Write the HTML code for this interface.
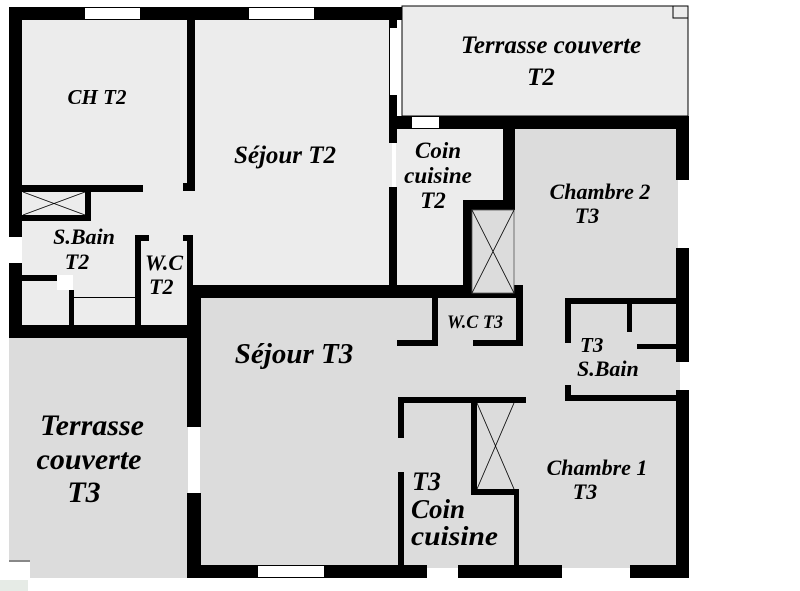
<!DOCTYPE html>
<html><head><meta charset="utf-8"><style>
html,body{margin:0;padding:0;background:#fff;}
svg{display:block;}
text{font-family:"Liberation Serif",serif;font-weight:bold;font-style:italic;fill:#000;}
</style></head><body>
<svg width="800" height="591" viewBox="0 0 800 591" xmlns="http://www.w3.org/2000/svg">
<rect x="402" y="6" width="286" height="110" fill="#ececec" stroke="#000" stroke-width="1"/>
<rect x="673" y="6" width="15" height="12" fill="none" stroke="#000" stroke-width="1"/>
<rect x="22" y="20" width="370" height="305" fill="#ececec"/>
<rect x="195" y="290" width="485" height="278" fill="#dcdcdc"/>
<rect x="396" y="129" width="282" height="165" fill="#dcdcdc"/>
<rect x="396" y="129" width="107" height="158" fill="#ececec"/>
<rect x="9" y="338" width="180" height="240" fill="#dcdcdc"/>
<line x1="9" y1="561" x2="30" y2="561" stroke="#333" stroke-width="1"/>
<rect x="9" y="562" width="21" height="18" fill="#fff"/>
<rect x="0" y="580" width="28" height="11" fill="#e6ebe6"/>
<g fill="#000">
<rect x="9" y="7" width="393" height="13"/>
<rect x="9" y="7" width="13" height="331"/>
<rect x="9" y="325" width="191" height="13"/>
<rect x="389" y="7" width="8" height="136"/>
<rect x="389" y="187" width="8" height="100"/>
<rect x="187" y="20" width="8" height="170"/>
<rect x="22" y="185" width="121" height="7"/>
<rect x="183" y="183" width="12" height="8"/>
<rect x="85" y="190" width="6" height="31"/>
<rect x="22" y="215" width="69" height="6"/>
<rect x="135" y="235" width="6" height="90"/>
<rect x="135" y="235" width="14" height="6"/>
<rect x="183" y="235" width="10" height="6"/>
<rect x="187" y="235" width="6" height="90"/>
<rect x="22" y="275" width="35" height="6"/>
<rect x="69" y="290" width="5" height="35"/>
<rect x="187" y="285" width="336" height="13"/>
<rect x="187" y="285" width="14" height="142"/>
<rect x="187" y="493" width="14" height="85"/>
<rect x="389" y="116" width="300" height="13"/>
<rect x="676" y="116" width="13" height="64"/>
<rect x="676" y="248" width="13" height="114"/>
<rect x="676" y="390" width="13" height="188"/>
<rect x="187" y="565" width="240" height="13"/>
<rect x="458" y="565" width="104" height="13"/>
<rect x="630" y="565" width="59" height="13"/>
<rect x="503" y="129" width="12" height="81"/>
<rect x="463" y="200" width="52" height="10"/>
<rect x="463" y="200" width="9" height="93"/>
<rect x="432" y="293" width="6" height="53"/>
<rect x="516" y="293" width="7" height="53"/>
<rect x="397" y="340" width="41" height="6"/>
<rect x="473" y="340" width="50" height="6"/>
<rect x="565" y="298" width="112" height="6"/>
<rect x="565" y="298" width="6" height="45"/>
<rect x="565" y="385" width="6" height="16"/>
<rect x="627" y="300" width="5" height="32"/>
<rect x="637" y="344" width="40" height="5"/>
<rect x="565" y="395" width="112" height="6"/>
<rect x="398" y="397" width="128" height="6"/>
<rect x="398" y="397" width="6" height="41"/>
<rect x="398" y="472" width="6" height="93"/>
<rect x="471" y="397" width="6" height="96"/>
<rect x="471" y="489" width="48" height="6"/>
<rect x="514" y="489" width="5" height="76"/>
</g>
<g fill="#fff">
<rect x="85" y="8" width="55" height="11"/>
<rect x="249" y="8" width="65" height="11"/>
<rect x="390" y="28" width="7" height="67"/>
<rect x="412" y="117" width="27" height="11"/>
<rect x="9" y="237" width="13" height="26"/>
<rect x="57" y="275" width="16" height="15"/>
<rect x="258" y="566" width="66" height="11"/>
<rect x="188" y="427" width="12" height="66"/>
</g>
<rect x="23" y="192" width="62" height="23" fill="#ececec"/>
<path d="M23 192L85 215M85 192L23 215" stroke="#000" stroke-width="0.8"/>
<rect x="472" y="210" width="42" height="83" fill="#dcdcdc" stroke="#555" stroke-width="0.8"/>
<path d="M472 210L514 293M514 210L472 293" stroke="#000" stroke-width="0.8"/>
<rect x="477" y="403" width="37" height="86" fill="#dcdcdc"/>
<path d="M477 403L514 489M514 403L477 489" stroke="#000" stroke-width="0.8"/>
<line x1="74" y1="297.5" x2="135" y2="297.5" stroke="#000" stroke-width="1"/>
<text x="97" y="104" font-size="21" text-anchor="middle">CH T2</text>
<text x="285" y="163" font-size="25" text-anchor="middle">Séjour T2</text>
<text x="84" y="244" font-size="22" text-anchor="middle">S.Bain</text>
<text x="77" y="269" font-size="22" text-anchor="middle">T2</text>
<text x="145" y="270" font-size="22">W.C</text>
<text x="149" y="294" font-size="22">T2</text>
<text x="551" y="53" font-size="25" text-anchor="middle">Terrasse couverte</text>
<text x="541" y="85" font-size="25" text-anchor="middle">T2</text>
<text x="438" y="158" font-size="23" text-anchor="middle">Coin</text>
<text x="438" y="183" font-size="23" text-anchor="middle">cuisine</text>
<text x="433" y="208" font-size="23" text-anchor="middle">T2</text>
<text x="600" y="199" font-size="22" text-anchor="middle">Chambre 2</text>
<text x="587" y="223" font-size="22" text-anchor="middle">T3</text>
<text x="475" y="328" font-size="19" text-anchor="middle" textLength="56" lengthAdjust="spacingAndGlyphs">W.C T3</text>
<text x="580" y="352" font-size="21">T3</text>
<text x="577" y="376" font-size="22">S.Bain</text>
<text x="294" y="363" font-size="29" text-anchor="middle">Séjour T3</text>
<text x="92" y="435" font-size="30" text-anchor="middle">Terrasse</text>
<text x="89" y="469" font-size="30" text-anchor="middle">couverte</text>
<text x="84" y="502" font-size="30" text-anchor="middle">T3</text>
<text x="597" y="475" font-size="22" text-anchor="middle">Chambre 1</text>
<text x="585" y="499" font-size="22" text-anchor="middle">T3</text>
<text x="412" y="490" font-size="26">T3</text>
<text x="411" y="518" font-size="27">Coin</text>
<text x="411" y="545" font-size="27" textLength="87" lengthAdjust="spacingAndGlyphs">cuisine</text>
</svg>
</body></html>
